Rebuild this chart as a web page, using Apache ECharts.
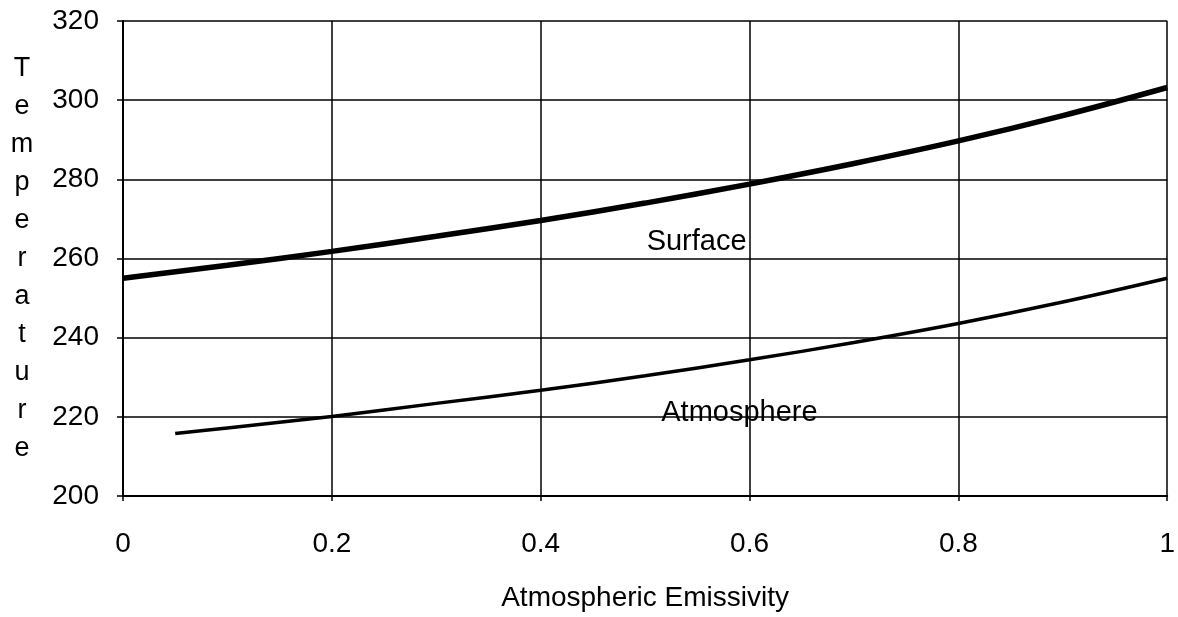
<!DOCTYPE html>
<html>
<head>
<meta charset="utf-8">
<script src="https://cdn.jsdelivr.net/npm/echarts@6/dist/echarts.min.js"></script>
<style>
html,body{margin:0;padding:0;background:#fff;}
#chart{width:1178px;height:617px;}
</style>
</head>
<body>
<div id="chart"></div>
<script>
// Data
const surfaceEmissivity = [0, 0.1, 0.2, 0.3, 0.4, 0.5, 0.6, 0.7, 0.8, 0.9, 1.0];
const surfaceTemp = [255.0, 258.3, 261.8, 265.6, 269.6, 274.0, 278.8, 284.0, 289.7, 296.1, 303.2];
const atmosEmissivity = [0.05, 0.1, 0.2, 0.3, 0.4, 0.5, 0.6, 0.7, 0.8, 0.9, 1.0];
const atmosTemp = [215.8, 217.2, 220.1, 223.4, 226.7, 230.4, 234.4, 238.8, 243.6, 249.0, 255.0];
const xTicks = [0, 0.2, 0.4, 0.6, 0.8, 1];
const yTicks = [200, 220, 240, 260, 280, 300, 320];
const seriesNames = ['Surface', 'Atmosphere'];
const xTitle = 'Atmospheric Emissivity';
const yTitle = 'Temperature';

const FONT = '"Liberation Sans", Arial, Helvetica, sans-serif';
const pair = (xs, ys) => xs.map((x, i) => [x, ys[i]]);

const chart = echarts.init(document.getElementById('chart'), null, {renderer: 'canvas'});
const labelStyle = {show: true, position: 'right', distance: 0, fontFamily: FONT, fontSize: 29, color: '#000', opacity: 1};
const option = {
  backgroundColor: '#ffffff',
  animation: false,
  grid: {left: 123, right: 7, top: 21, bottom: 114, containLabel: false},
  xAxis: {
    type: 'value', min: xTicks[0], max: xTicks[xTicks.length - 1], interval: 0.2,
    name: xTitle, nameLocation: 'middle', nameGap: 88,
    nameTextStyle: {fontFamily: FONT, fontSize: 28, color: '#000'},
    axisLine: {show: true, onZero: false, lineStyle: {color: '#000', width: 2}},
    axisTick: {show: true, length: 5, lineStyle: {color: '#000', width: 1.5}},
    axisLabel: {fontFamily: FONT, fontSize: 28, color: '#000', margin: 34,
      formatter: v => String(+v.toFixed(1))},
    splitLine: {show: true, lineStyle: {color: '#000', width: 1.5}}
  },
  yAxis: {
    type: 'value', min: yTicks[0], max: yTicks[yTicks.length - 1], interval: 20,
    name: yTitle.split('').join('\n'), nameLocation: 'middle', nameRotate: 0, nameGap: 101,
    nameTextStyle: {fontFamily: FONT, fontSize: 27, color: '#000', lineHeight: 38, align: 'center'},
    axisLine: {show: true, lineStyle: {color: '#000', width: 2}},
    axisTick: {show: true, length: 6, lineStyle: {color: '#000', width: 1.5}},
    axisLabel: {fontFamily: FONT, fontSize: 28, color: '#000', margin: 24},
    splitLine: {show: true, lineStyle: {color: '#000', width: 1.5}}
  },
  series: [
    {
      name: seriesNames[0], type: 'line', data: pair(surfaceEmissivity, surfaceTemp),
      smooth: 0.4, showSymbol: false, symbol: 'none',
      lineStyle: {color: '#000', width: 5.5}, z: 5
    },
    {
      name: seriesNames[1], type: 'line', data: pair(atmosEmissivity, atmosTemp),
      smooth: 0.4, showSymbol: false, symbol: 'none',
      lineStyle: {color: '#000', width: 3.5}, z: 5
    },
    {
      type: 'scatter', symbolSize: 1, silent: true, z: 6,
      itemStyle: {opacity: 0},
      data: [
        {value: [0.501, 264.2], label: Object.assign({}, labelStyle, {formatter: seriesNames[0]})},
        {value: [0.515, 221.0], label: Object.assign({}, labelStyle, {formatter: seriesNames[1]})}
      ],
      label: labelStyle
    }
  ]
};
chart.setOption(option);
</script>
</body>
</html>
